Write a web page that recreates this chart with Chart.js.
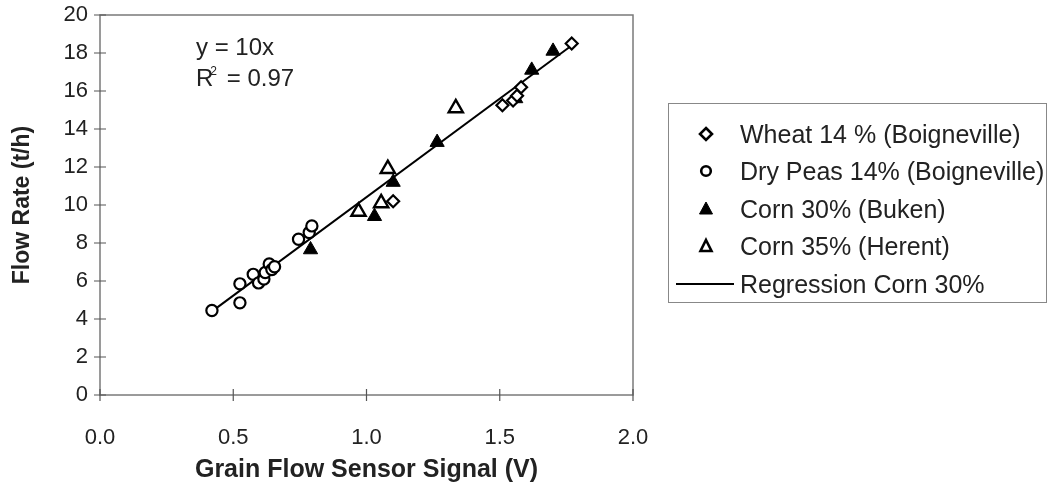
<!DOCTYPE html>
<html><head><meta charset="utf-8">
<script src="https://cdn.jsdelivr.net/npm/chart.js@4/dist/chart.umd.min.js"></script>
<style>
html,body{margin:0;padding:0;background:#fff;}
#wrap{position:relative;width:1049px;height:492px;overflow:hidden;font-family:"Liberation Sans",Arial,sans-serif;color:#222;}
#c{position:absolute;left:0;top:0;}
#eq{position:absolute;left:196px;top:31px;font-size:24px;line-height:31px;}
#eq sup{font-size:12px;line-height:0;vertical-align:baseline;position:relative;top:-11px;margin-left:-3px;margin-right:3px;}
#legend{position:absolute;left:668px;top:103px;width:379px;height:200px;border:1.5px solid #888;box-sizing:border-box;font-size:25px;}
.row{position:absolute;left:0;height:30px;width:375px;}
.row svg{position:absolute;top:0;}
.row span{position:absolute;left:71px;top:0;line-height:30px;white-space:nowrap;}
</style></head>
<body>
<div id="wrap">
<canvas id="c" width="1049" height="492"></canvas>
<div id="eq">y = 10x<br>R<sup>2</sup> = 0.97</div>
<div id="legend"></div>
</div>
<script>
// ---- data ----
const wheatX = [1.10, 1.51, 1.55, 1.565, 1.58, 1.77];
const wheatY = [10.2, 15.25, 15.5, 15.75, 16.2, 18.5];
const peasX = [0.42, 0.525, 0.525, 0.575, 0.595, 0.615, 0.62, 0.635, 0.645, 0.655, 0.745, 0.785, 0.795];
const peasY = [4.45, 4.85, 5.85, 6.35, 5.9, 6.1, 6.45, 6.9, 6.6, 6.75, 8.2, 8.55, 8.9];
const corn30X = [0.79, 1.03, 1.10, 1.265, 1.56, 1.62, 1.70];
const corn30Y = [7.65, 9.4, 11.2, 13.3, 15.6, 17.1, 18.1];
const corn35X = [0.97, 1.055, 1.08, 1.335];
const corn35Y = [9.65, 10.1, 11.9, 15.1];
const regX = [0.42, 1.78];
const regY = [4.4, 18.5];
const xTicks = [0, 0.5, 1.0, 1.5, 2.0];
const yTicks = [0, 2, 4, 6, 8, 10, 12, 14, 16, 18, 20];
const seriesNames = ['Wheat 14 % (Boigneville)', 'Dry Peas 14% (Boigneville)', 'Corn 30% (Buken)', 'Corn 35% (Herent)', 'Regression Corn 30%'];

const pts = (xs, ys) => xs.map((x, i) => ({x, y: ys[i]}));

const framePlugin = {
  id: 'frame',
  beforeDatasetsDraw(chart) {
    const {ctx, chartArea: a, scales: {x, y}} = chart;
    ctx.save();
    ctx.strokeStyle = '#7a7a7a';
    ctx.lineWidth = 1.5;
    ctx.strokeRect(a.left, a.top, a.right - a.left, a.bottom - a.top);
    ctx.strokeStyle = '#555';
    ctx.lineWidth = 1.2;
    ctx.beginPath();
    xTicks.forEach(v => { const p = x.getPixelForValue(v); ctx.moveTo(p, a.bottom - 6); ctx.lineTo(p, a.bottom + 6); });
    yTicks.forEach(v => { const p = y.getPixelForValue(v); ctx.moveTo(a.left - 6, p); ctx.lineTo(a.left + 6, p); });
    ctx.stroke();
    ctx.restore();
  }
};

const black = '#000';
const fam = '"Liberation Sans", Arial, sans-serif';
const hiddenGrid = (len) => ({display: true, drawOnChartArea: false, drawTicks: true, tickLength: len, color: 'rgba(0,0,0,0)'});
new Chart(document.getElementById('c'), {
  type: 'scatter',
  data: {
    datasets: [
      {label: seriesNames[4], type: 'line', data: pts(regX, regY), borderColor: black, borderWidth: 2, pointRadius: 0, order: 5},
      {label: seriesNames[0], data: pts(wheatX, wheatY), pointStyle: 'rectRot', pointRadius: 6, borderColor: black, backgroundColor: '#fff', borderWidth: 2.2},
      {label: seriesNames[1], data: pts(peasX, peasY), pointStyle: 'circle', pointRadius: 5.6, borderColor: black, backgroundColor: '#fff', borderWidth: 2.2},
      {label: seriesNames[3], data: pts(corn35X, corn35Y), pointStyle: 'triangle', pointRadius: 8.2, borderColor: black, backgroundColor: '#fff', borderWidth: 2.4},
      {label: seriesNames[2], data: pts(corn30X, corn30Y), pointStyle: 'triangle', pointRadius: 8.2, borderColor: black, backgroundColor: black, borderWidth: 1}
    ]
  },
  options: {
    responsive: false,
    animation: false,
    layout: {padding: {top: 15, right: 416, left: 0, bottom: 0}},
    plugins: {legend: {display: false}, tooltip: {enabled: false}},
    scales: {
      x: {
        type: 'linear', min: 0, max: 2,
        afterBuildTicks: s => { s.ticks = xTicks.map(v => ({value: v})); },
        afterFit: s => { s.height = 97; },
        ticks: {callback: v => Number(v).toFixed(1), padding: 0, font: {family: fam, size: 22}, color: '#222', maxRotation: 0},
        grid: hiddenGrid(30),
        border: {display: false},
        title: {display: true, text: 'Grain Flow Sensor Signal (V)', color: '#222', font: {family: fam, size: 25, weight: 'bold'}, padding: {top: 0, bottom: 7}}
      },
      y: {
        type: 'linear', min: 0, max: 20,
        afterBuildTicks: s => { s.ticks = yTicks.map(v => ({value: v})); },
        afterFit: s => { s.width = 100; },
        ticks: {padding: 0, font: {family: fam, size: 22}, color: '#222'},
        grid: hiddenGrid(12),
        border: {display: false},
        title: {display: true, text: 'Flow Rate (t/h)', color: '#222', font: {family: fam, size: 23, weight: 'bold'}, padding: {top: 9, bottom: 0}}
      }
    }
  },
  plugins: [framePlugin]
});

// legend (HTML, markers as small SVG shapes)
const markers = [
  '<svg width="70" height="30" style="left:0"><polygon points="37,9 43,15 37,21 31,15" fill="#fff" stroke="#000" stroke-width="2.6"/></svg>',
  '<svg width="70" height="30" style="left:0"><circle cx="37" cy="15" r="4.8" fill="#fff" stroke="#000" stroke-width="2.6"/></svg>',
  '<svg width="70" height="30" style="left:0"><polygon points="37,8 43.5,20 30.5,20" fill="#000" stroke="#000" stroke-width="1"/></svg>',
  '<svg width="70" height="30" style="left:0"><polygon points="37,9 42.5,20 31.5,20" fill="#fff" stroke="#000" stroke-width="2.6"/></svg>',
  '<svg width="70" height="30" style="left:0"><line x1="7" y1="15" x2="65" y2="15" stroke="#000" stroke-width="2"/></svg>'
];
const rowTops = [15, 52, 90, 127, 165];
const lg = document.getElementById('legend');
seriesNames.forEach((n, i) => {
  const d = document.createElement('div');
  d.className = 'row';
  d.style.top = rowTops[i] + 'px';
  d.innerHTML = markers[i] + '<span>' + n + '</span>';
  lg.appendChild(d);
});
</script>
</body></html>
